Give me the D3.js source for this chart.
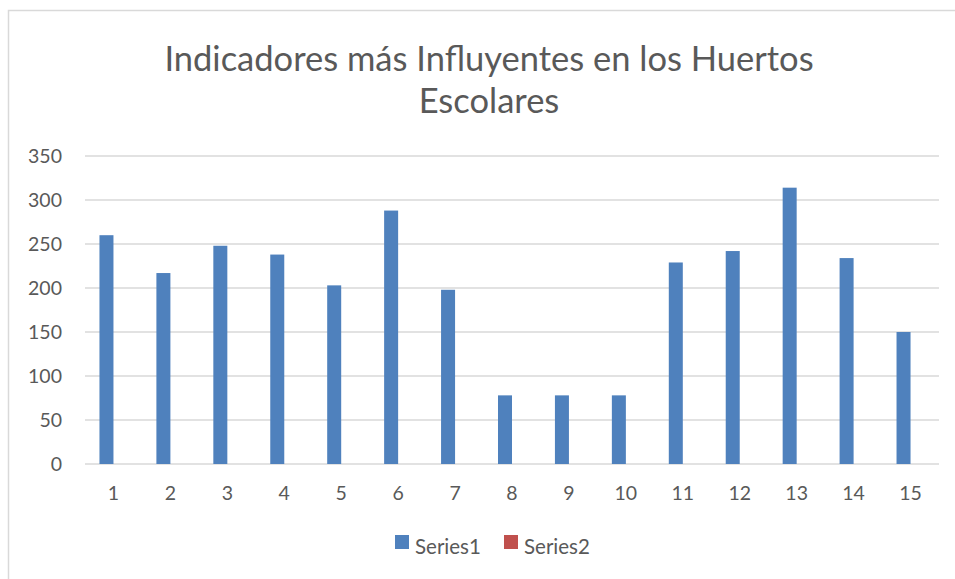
<!DOCTYPE html>
<html>
<head>
<meta charset="utf-8">
<script src="https://cdn.jsdelivr.net/npm/d3@7"></script>
<style>
  body { margin: 0; background: #fff; }
  svg { display: block; }
</style>
</head>
<body>
<svg id="chart"></svg>
<script>
const categories = ["1", "2", "3", "4", "5", "6", "7", "8", "9", "10", "11", "12", "13", "14", "15"];
const series1 = [260, 217, 248, 238, 203, 288, 198, 78, 78, 78, 229, 242, 314, 234, 150];
const series2 = [0, 0, 0, 0, 0, 0, 0, 0, 0, 0, 0, 0, 0, 0, 0];
const seriesNames = ["Series1", "Series2"];
const colors = ["#4f81bd", "#c0504d"];
const yTicks = [0, 50, 100, 150, 200, 250, 300, 350];
const titleLines = ["Indicadores más Influyentes en los Huertos", "Escolares"];

const W = 955, H = 579;
const margin = { top: 156, right: 16, bottom: 115, left: 85 };
const font = "Lato, 'Open Sans', sans-serif";
const textColor = "#595959";

const svg = d3.select("#chart").attr("width", W).attr("height", H);

// chart frame (only top and left edges are in the picture)
svg.append("path")
    .attr("d", `M8.5,${H} V10.5 H${W}`)
    .attr("fill", "none")
    .attr("stroke", "#d9d9d9")
    .attr("stroke-width", 1.5);

const x0 = d3.scaleBand()
    .domain(categories)
    .range([margin.left, W - margin.right])
    .paddingInner(0.508)
    .paddingOuter(0.254);

const x1 = d3.scaleBand()
    .domain(seriesNames)
    .range([0, x0.bandwidth()]);

const y = d3.scaleLinear()
    .domain([0, 350])
    .range([H - margin.bottom, margin.top]);

// gridlines
svg.append("g")
    .selectAll("line")
    .data(yTicks)
    .join("line")
    .attr("x1", margin.left)
    .attr("x2", W - margin.right)
    .attr("y1", d => y(d))
    .attr("y2", d => y(d))
    .attr("stroke", "#d9d9d9")
    .attr("stroke-width", 1.3);

// y axis labels
const yAxis = g => g
    .attr("transform", `translate(${margin.left - 23},0)`)
    .call(d3.axisLeft(y).tickValues(yTicks).tickSize(0).tickPadding(0))
    .call(g => g.select(".domain").remove())
    .call(g => g.selectAll("text")
        .attr("fill", textColor)
        .attr("font-family", font)
        .attr("font-size", 19.5));

svg.append("g").call(yAxis);

// x axis labels
const xAxis = g => g
    .attr("transform", `translate(0,${H - margin.bottom})`)
    .call(d3.axisBottom(x0).tickSize(0).tickPadding(22))
    .call(g => g.select(".domain").remove())
    .call(g => g.selectAll("text")
        .attr("fill", textColor)
        .attr("font-family", font)
        .attr("font-size", 19.5));

svg.append("g").call(xAxis);

// bars
const rows = categories.map((c, i) => ({ k: c, vals: [series1[i], series2[i]] }));

svg.append("g")
    .selectAll("g")
    .data(rows)
    .join("g")
    .attr("transform", d => `translate(${x0(d.k)},0)`)
    .selectAll("rect")
    .data(d => d.vals.map((v, j) => ({ name: seriesNames[j], v, color: colors[j] })))
    .join("rect")
    .attr("x", d => x1(d.name))
    .attr("y", d => y(d.v))
    .attr("width", x1.bandwidth())
    .attr("height", d => y(0) - y(d.v))
    .attr("fill", d => d.color);

// title
svg.append("g")
    .attr("fill", textColor)
    .attr("font-family", font)
    .attr("font-size", 34.5)
    .attr("text-anchor", "middle")
    .selectAll("text")
    .data(titleLines)
    .join("text")
    .attr("x", 489)
    .attr("y", (d, i) => 71 + i * 42)
    .text(d => d);

// legend
const legendX = [395, 504];
const legend = svg.append("g")
    .selectAll("g")
    .data(seriesNames)
    .join("g")
    .attr("transform", (d, i) => `translate(${legendX[i]},535)`);

legend.append("rect")
    .attr("width", 14)
    .attr("height", 14)
    .attr("fill", (d, i) => colors[i]);

legend.append("text")
    .attr("x", 20)
    .attr("y", 19)
    .attr("fill", textColor)
    .attr("font-family", font)
    .attr("font-size", 20.5)
    .text(d => d);
</script>
</body>
</html>
